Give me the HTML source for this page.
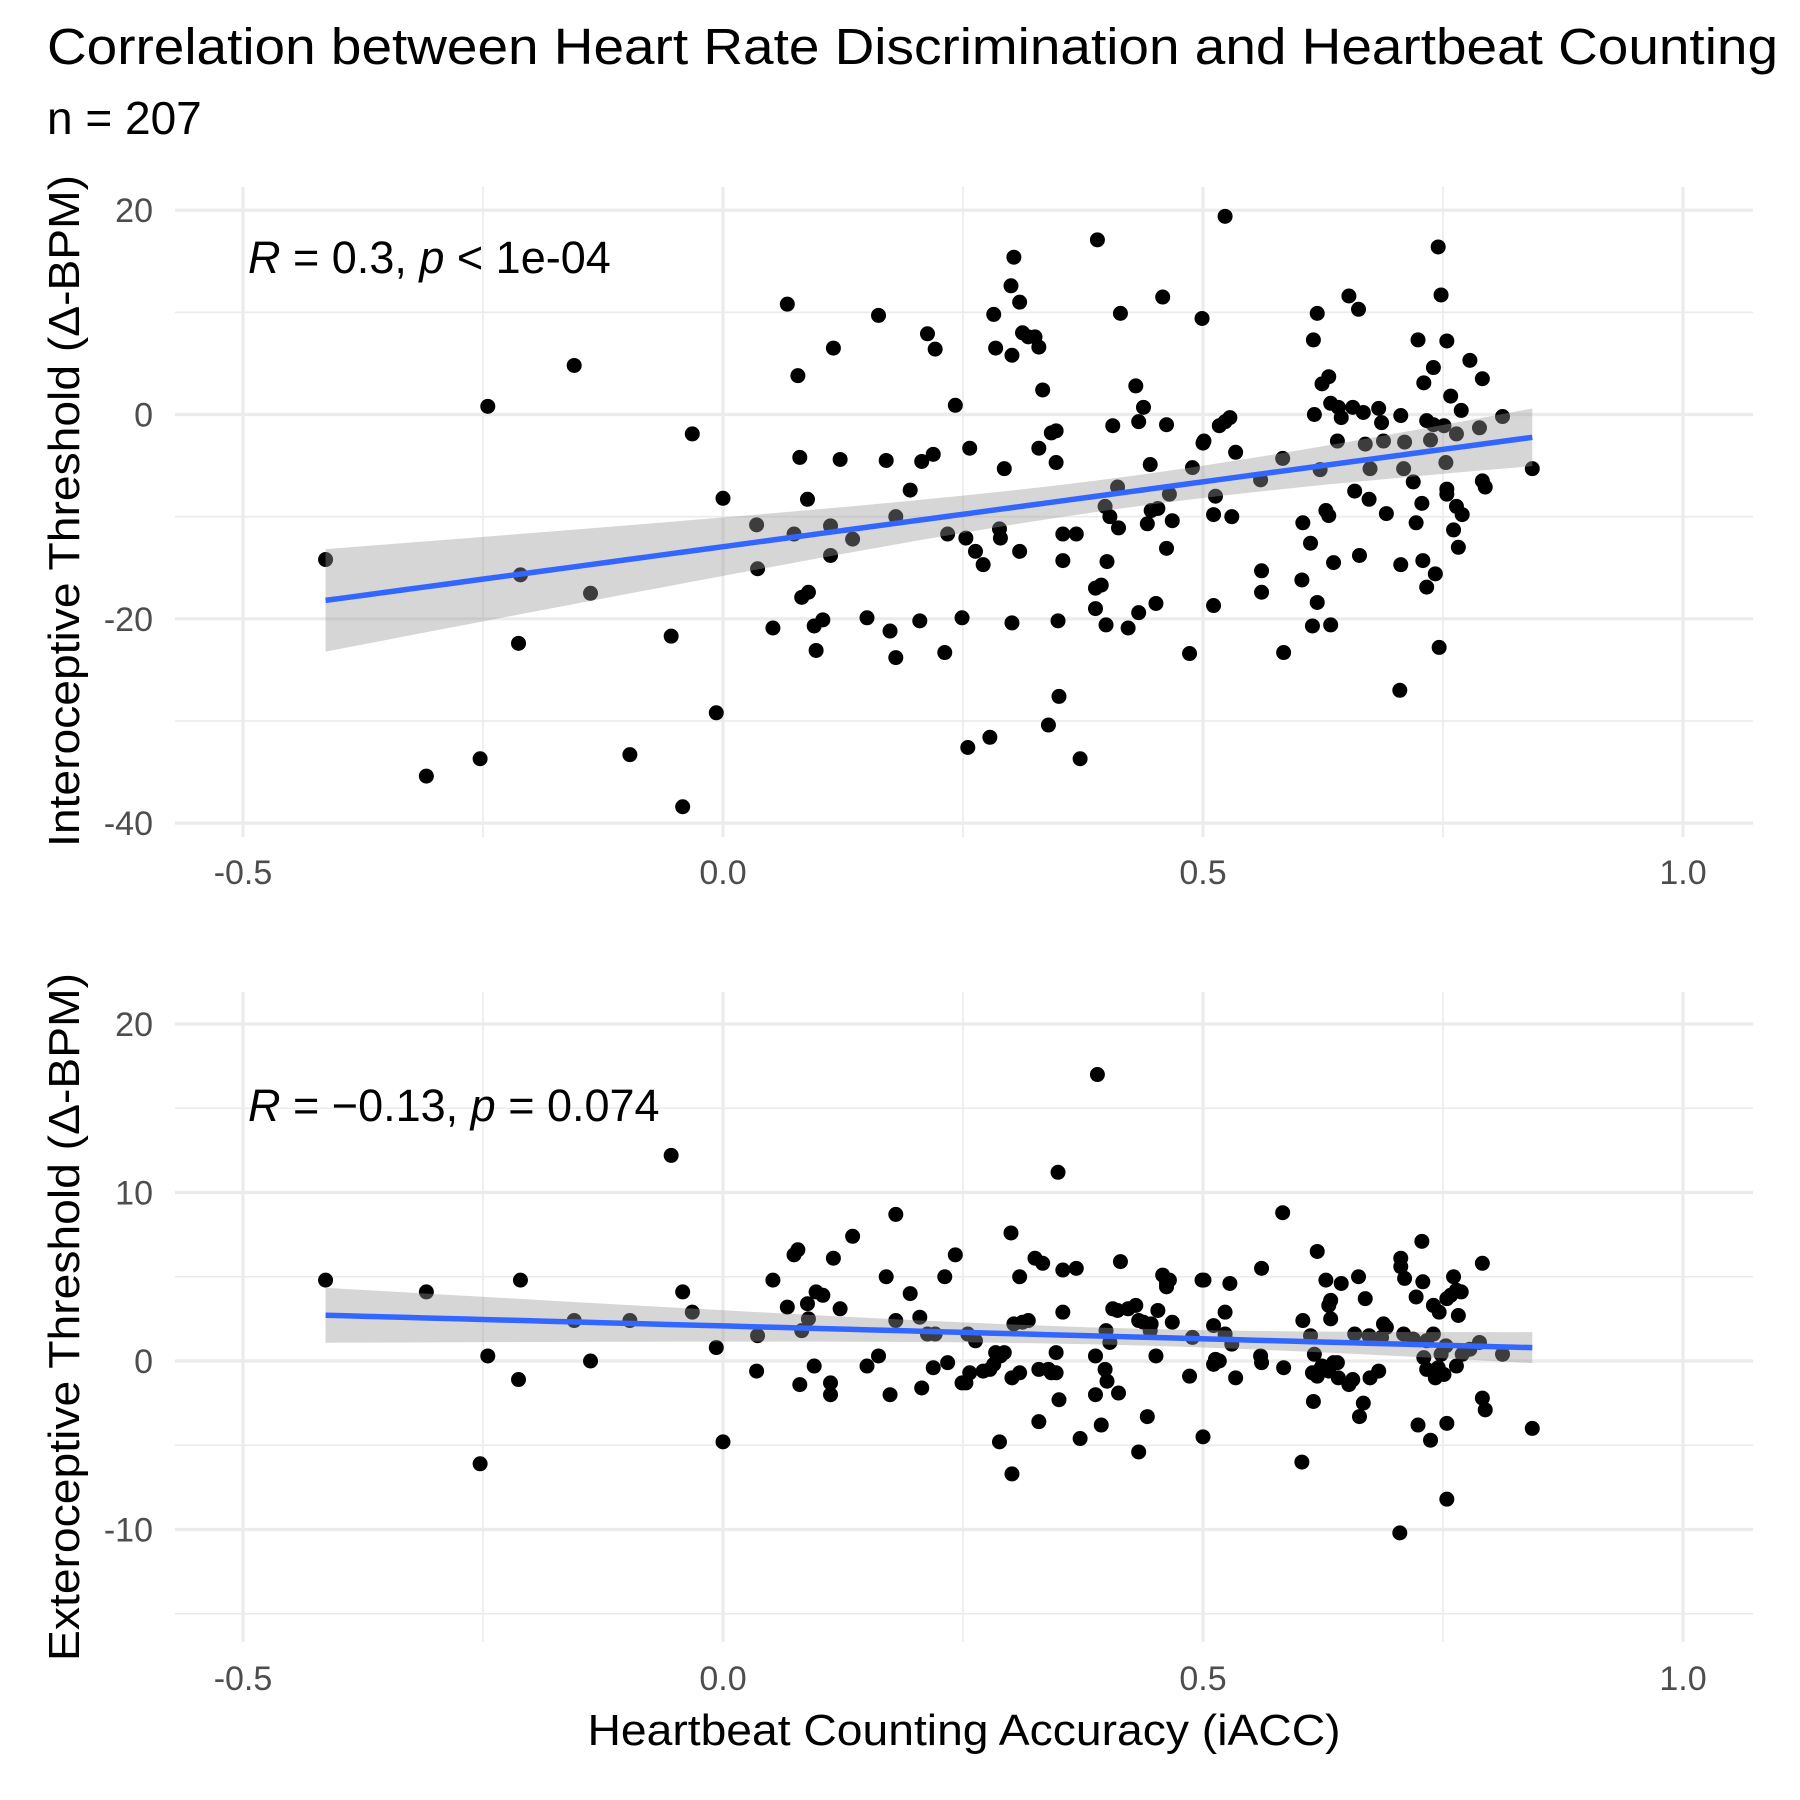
<!DOCTYPE html>
<html><head><meta charset="utf-8"><style>
html,body{margin:0;padding:0;background:#fff;}
svg{display:block;font-family:"Liberation Sans",Arial,sans-serif;}
</style></head><body>
<svg id="chart" width="1800" height="1800" viewBox="0 0 1800 1800" xmlns="http://www.w3.org/2000/svg">
<rect width="1800" height="1800" fill="#fff"/>
<text x="47" y="64" font-size="51" textLength="1731" lengthAdjust="spacingAndGlyphs" fill="#000">Correlation between Heart Rate Discrimination and Heartbeat Counting</text>
<text x="47" y="134" font-size="46" fill="#000">n = 207</text>
<g id="top"></g>
<g id="bot"></g>
<text x="964" y="1745" font-size="44" text-anchor="middle" textLength="753" lengthAdjust="spacingAndGlyphs" fill="#000">Heartbeat Counting Accuracy (iACC)</text>
</svg>
<script>
const iacc = [-0.414,-0.309,-0.253,-0.245,-0.213,-0.211,-0.155,-0.138,-0.097,-0.054,-0.042,-0.032,-0.007,0,0.035,0.036,0.052,0.067,0.074,0.078,0.080,0.082,0.088,0.089,0.095,0.097,0.104,0.112,0.112,0.115,0.122,0.135,0.150,0.162,0.170,0.174,0.180,0.180,0.195,0.205,0.207,0.213,0.219,0.221,0.231,0.234,0.242,0.249,0.253,0.257,0.255,0.263,0.271,0.278,0.282,0.284,0.288,0.289,0.293,0.300,0.301,0.301,0.303,0.309,0.309,0.312,0.318,0.325,0.329,0.329,0.333,0.339,0.342,0.347,0.347,0.349,0.350,0.354,0.354,0.368,0.372,0.390,0.388,0.388,0.394,0.398,0.399,0.400,0.403,0.406,0.411,0.414,0.412,0.422,0.430,0.433,0.433,0.438,0.442,0.445,0.446,0.451,0.453,0.458,0.462,0.462,0.465,0.468,0.486,0.489,0.499,0.500,0.501,0.511,0.511,0.513,0.517,0.523,0.523,0.528,0.530,0.534,0.560,0.561,0.561,0.583,0.584,0.603,0.604,0.612,0.614,0.615,0.616,0.619,0.619,0.622,0.624,0.628,0.631,0.631,0.633,0.633,0.636,0.640,0.641,0.644,0.652,0.656,0.658,0.662,0.663,0.667,0.669,0.673,0.674,0.683,0.688,0.686,0.691,0.705,0.706,0.706,0.709,0.710,0.719,0.722,0.724,0.728,0.729,0.730,0.733,0.733,0.737,0.740,0.740,0.742,0.745,0.746,0.748,0.751,0.753,0.754,0.754,0.754,0.758,0.761,0.764,0.764,0.766,0.769,0.770,0.778,0.788,0.791,0.791,0.794,0.812,0.843];
const interoThreshold = [-14.2,-35.4,-33.7,0.8,-22.4,-15.7,4.8,-17.5,-33.3,-21.7,-38.4,-1.9,-29.2,-8.2,-10.8,-15.1,-20.9,10.8,-11.7,3.8,-4.2,-17.9,-8.3,-17.4,-20.7,-23.1,-20.1,-10.9,-13.8,6.5,-4.4,-12.2,-19.9,9.7,-4.5,-21.2,-23.8,-10.0,-7.4,-20.2,-4.6,7.9,-3.9,6.4,-23.3,-11.7,0.9,-19.9,-12.1,-3.3,-32.6,-13.4,-14.7,-31.6,9.8,6.5,-11.2,-12.1,-5.3,12.6,5.8,-20.4,15.4,11.0,-13.4,8.0,7.6,7.6,6.6,-3.3,2.4,-30.4,-1.8,-1.6,-4.7,-20.2,-27.6,-14.3,-11.7,-11.7,-33.7,17.1,-19.0,-17.0,-16.7,-9.0,-20.6,-14.4,-10.0,-1.1,-7.1,9.9,-11.1,-20.9,2.8,-0.7,-19.4,0.7,-10.7,-4.9,-9.4,-18.5,-9.2,11.5,-1.0,-13.1,-7.8,-10.4,-23.4,-5.2,9.4,-2.8,-2.6,-18.7,-9.8,-8.0,-1.1,19.4,-0.7,-0.3,-10.0,-3.7,-6.4,-17.4,-15.3,-4.3,-23.3,-16.2,-10.6,-12.6,-20.7,7.3,0,9.9,-18.4,-5.4,3.0,-9.4,3.7,-9.9,-20.6,1.1,-14.5,-2.6,0.7,-0.3,11.6,0.7,-7.5,10.3,-13.8,0.2,-2.9,-8.3,-5.3,0.6,-2.6,-0.8,-9.7,-27.0,-0.1,-14.7,-5.3,-2.7,-6.6,-10.6,7.3,-8.7,-14.3,3.1,-0.6,-16.9,-2.5,4.6,-1.0,-15.6,16.4,-22.8,11.7,-1.1,-4.7,7.2,-7.8,-7.3,1.8,-11.3,-1.9,-9.0,-13.0,0.4,-9.8,5.3,-1.3,3.5,-6.5,-7.1,-0.2,-5.3];
const exteroThreshold = [4.8,4.1,-6.1,0.3,-1.1,4.8,2.4,0,2.4,12.2,4.1,2.9,0.8,-4.8,-0.6,1.5,4.8,3.2,6.3,6.6,-1.4,1.8,3.4,2.5,-0.3,4.1,3.9,-1.3,-2.0,6.1,3.1,7.4,-0.3,0.3,5.0,-2.0,2.4,8.7,4.0,2.6,-1.6,1.6,-0.4,1.6,5.0,-0.1,6.3,-1.3,-1.3,-0.7,1.6,1.2,-0.6,-0.5,-0.2,0.5,-4.8,0.3,0.5,7.6,-6.7,-1.0,2.2,5.0,-0.7,2.3,2.4,6.1,-3.6,-0.5,5.8,-0.5,-0.7,0.5,-0.7,11.2,-2.3,2.9,5.4,5.5,-4.6,17.0,-2.0,0.3,-3.8,-0.5,1.8,-1.2,1.1,3.1,3.0,5.9,-1.9,3.1,3.3,-5.4,2.4,2.3,-3.3,1.8,2.2,0.3,3.0,5.1,4.6,4.4,4.8,2.3,-0.9,1.4,4.8,-4.5,4.8,-0.2,2.1,0.1,0,2.9,1.6,4.6,1.0,-1.0,0.3,5.5,-0.1,8.8,-0.4,-6.0,2.4,1.5,-0.7,-2.4,0.4,6.5,-0.9,-0.5,-0.3,4.8,3.3,-0.6,3.6,2.5,-0.1,-0.1,-1.0,4.6,-1.4,-1.1,1.6,5.0,-3.3,-2.5,3.7,1.5,-1.0,-0.6,2.2,1.4,2.0,-10.2,6.1,5.6,1.6,4.9,1.3,3.8,-3.8,7.1,4.7,0.2,-0.5,1.2,-4.7,1.6,3.3,-1.0,-0.4,2.9,0.4,-0.8,0.9,-8.2,-3.7,3.7,3.9,5.0,-0.3,4.2,2.7,4.1,0.4,0.7,1.1,-2.2,5.8,-2.9,0.4,-4.0];
const xTicks = [-0.5, 0.0, 0.5, 1.0];
const xTickLabels = ["-0.5", "0.0", "0.5", "1.0"];
const xMinor = [-0.25, 0.25, 0.75];
const topTicks = [-40, -20, 0, 20];
const topMinor = [-30, -10, 10];
const botTicks = [-10, 0, 10, 20];
const botMinor = [-15, -5, 5, 15];
const topStat = "R = 0.3, p < 1e-04";
const botStat = "R = −0.13, p = 0.074";

const NS = "http://www.w3.org/2000/svg";
const X = v => 723 + 960 * v;
const PX0 = 175, PX1 = 1753;

function mk(parent, tag, attrs) {
  const e = document.createElementNS(NS, tag);
  for (const k in attrs) e.setAttribute(k, attrs[k]);
  parent.appendChild(e);
  return e;
}

function fit(xs, ys) {
  const n = xs.length;
  const mx = xs.reduce((a, b) => a + b, 0) / n;
  const my = ys.reduce((a, b) => a + b, 0) / n;
  let sxx = 0, sxy = 0;
  for (let i = 0; i < n; i++) { sxx += (xs[i] - mx) ** 2; sxy += (xs[i] - mx) * (ys[i] - my); }
  const b = sxy / sxx, a = my - b * mx;
  let sse = 0;
  for (let i = 0; i < n; i++) sse += (ys[i] - a - b * xs[i]) ** 2;
  const s = Math.sqrt(sse / (n - 2));
  return { a, b, mx, sxx, s, n };
}

function panel(g, Y, top, bottom, ticks, minor, ys, stat, statY, tickLabelY, yTitle, yTitleCenter, yTitleLen) {
  minor.forEach(v => {
    const l = mk(g, "line", { x1: PX0, x2: PX1, y1: Y(v), y2: Y(v), stroke: "#ebebeb", "stroke-width": 1.6 });
    
    
  });
  xMinor.forEach(v => {
    const l = mk(g, "line", { x1: X(v), x2: X(v), y1: top, y2: bottom, stroke: "#ebebeb", "stroke-width": 1.6 });
    
    
  });
  ticks.forEach(v => {
    const l = mk(g, "line", { x1: PX0, x2: PX1, y1: Y(v), y2: Y(v), stroke: "#ebebeb", "stroke-width": 3.2 });
    
    
    const t = mk(g, "text", { x: 153, y: Y(v) + 12, "font-size": 34, "text-anchor": "end", fill: "#4d4d4d" });
    t.textContent = String(v);
    
    
  });
  xTicks.forEach((v, i) => {
    const l = mk(g, "line", { x1: X(v), x2: X(v), y1: top, y2: bottom, stroke: "#ebebeb", "stroke-width": 3.2 });
    
    
    const t = mk(g, "text", { x: X(v), y: tickLabelY, "font-size": 34, "text-anchor": "middle", fill: "#4d4d4d" });
    t.textContent = xTickLabels[i];
    
    
  });
  iacc.forEach((xv, i) => {
    const c = mk(g, "circle", { cx: X(xv), cy: Y(ys[i]), r: 7.5, fill: "#000" });
    
    
  });
  const f = fit(iacc, ys);
  const xmin = Math.min(...iacc), xmax = Math.max(...iacc);
  const N = 60, up = [], lo = [], mid = [];
  for (let k = 0; k <= N; k++) {
    const xv = xmin + (xmax - xmin) * k / N;
    const yh = f.a + f.b * xv;
    const se = f.s * Math.sqrt(1 / f.n + (xv - f.mx) ** 2 / f.sxx);
    up.push(X(xv) + "," + Y(yh + 1.972 * se));
    lo.unshift(X(xv) + "," + Y(yh - 1.972 * se));
    mid.push(X(xv) + "," + Y(yh));
  }
  const band = mk(g, "polygon", { points: up.concat(lo).join(" "), fill: "#999999", "fill-opacity": 0.4 });
  
  
  const line = mk(g, "polyline", { points: mid.join(" "), fill: "none", stroke: "#3366FF", "stroke-width": 5.5 });
  
  
  const parts = stat.split(/(R|p)(?= )/);
  const st = mk(g, "text", { x: 248, y: statY, "font-size": 45, fill: "#000" });
  
  
  parts.forEach(p => {
    if (!p) return;
    const ts = mk(st, "tspan", {});
    if (p === "R" || p === "p") ts.setAttribute("font-style", "italic");
    ts.textContent = p;
  });
  const yt = mk(g, "text", { x: 0, y: 0, "font-size": 44, "text-anchor": "middle", fill: "#000", textLength: yTitleLen, lengthAdjust: "spacingAndGlyphs", transform: "translate(79," + yTitleCenter + ") rotate(-90)" });
  yt.textContent = yTitle;
  
  
}

panel(document.getElementById("top"), v => 414.5 - 10.215 * v, 187, 837, topTicks, topMinor, interoThreshold, topStat, 273, 884, "Interoceptive Threshold (Δ-BPM)", 511, 672);
panel(document.getElementById("bot"), v => 1361 - 16.85 * v, 992, 1642, botTicks, botMinor, exteroThreshold, botStat, 1121, 1690, "Exteroceptive Threshold (Δ-BPM)", 1317, 688);
</script>
</body></html>
